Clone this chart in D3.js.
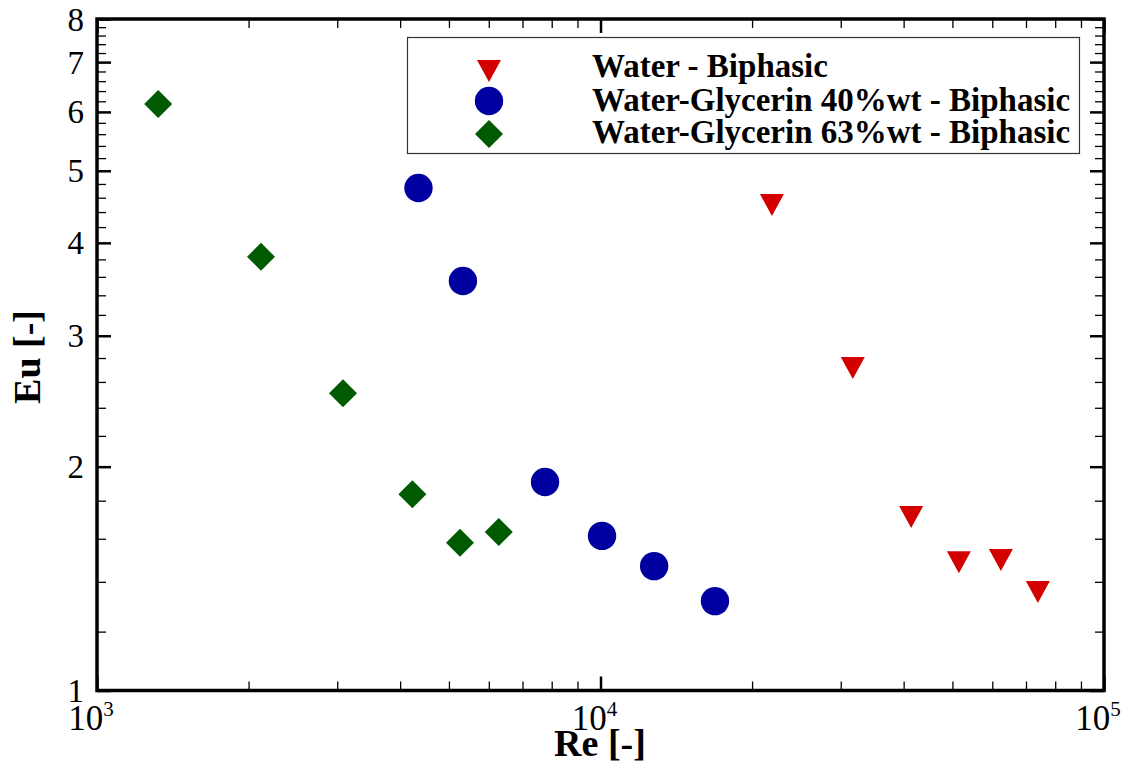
<!DOCTYPE html>
<html>
<head>
<meta charset="utf-8">
<script src="https://cdn.jsdelivr.net/npm/d3@7"></script>
<style>
  body { margin: 0; background: #fff; }
  svg { display: block; }
</style>
</head>
<body>
<svg id="chart" width="1132" height="763"></svg>
<script>
// data
const waterRe = [21900, 31700, 41400, 51500, 62400, 73900];
const waterEu = [4.54, 2.74, 1.727, 1.502, 1.512, 1.369];
const gly40Re = [4350, 5330, 7760, 10070, 12780, 16880];
const gly40Eu = [4.74, 3.554, 1.907, 1.614, 1.47, 1.319];
const gly63Re = [1323, 2117, 3080, 4230, 5260, 6280];
const gly63Eu = [6.15, 3.83, 2.51, 1.836, 1.58, 1.634];

const seriesNames = ["Water - Biphasic", "Water-Glycerin 40%wt - Biphasic", "Water-Glycerin 63%wt - Biphasic"];
const yMajor = [1, 2, 3, 4, 5, 6, 7, 8];
const xMajor = [1e3, 1e4, 1e5];

const svg = d3.select("#chart");
const plot = { left: 97, right: 1104, top: 19, bottom: 690.5 };

const x = d3.scaleLog().domain([1e3, 1e5]).range([plot.left, plot.right]);
const y = d3.scaleLog().domain([1, 8]).range([plot.bottom, plot.top]);

// minor tick values
const xMinor = [];
[1e3, 1e4].forEach(d => { for (let k = 2; k <= 9; k++) xMinor.push(d * k); });
const yMinor = [];
for (let v = 1.2; v < 7.95; v += 0.2) {
  const r = Math.round(v * 10) / 10;
  if (Math.abs(r - Math.round(r)) > 1e-6) yMinor.push(r);
}

const serif = "'Liberation Serif', 'Times New Roman', serif";

function tickAxis(axisFn, scale, values, size, transform, width) {
  const g = svg.append("g").attr("transform", transform)
    .call(axisFn(scale).tickValues(values).tickSize(-size).tickFormat(""));
  g.select(".domain").remove();
  g.selectAll(".tick line").attr("stroke", "#000").attr("stroke-width", width);
}

// bottom / top
tickAxis(d3.axisBottom, x, xMinor, 9, `translate(0,${plot.bottom})`, 1.3);
tickAxis(d3.axisBottom, x, xMajor, 14, `translate(0,${plot.bottom})`, 2.5);
tickAxis(d3.axisTop, x, xMinor, 9, `translate(0,${plot.top})`, 1.3);
tickAxis(d3.axisTop, x, xMajor, 14, `translate(0,${plot.top})`, 2.5);
// left / right
tickAxis(d3.axisLeft, y, yMinor, 9, `translate(${plot.left},0)`, 1.3);
tickAxis(d3.axisLeft, y, yMajor, 14, `translate(${plot.left},0)`, 2.5);
tickAxis(d3.axisRight, y, yMinor, 9, `translate(${plot.right},0)`, 1.3);
tickAxis(d3.axisRight, y, yMajor, 14, `translate(${plot.right},0)`, 2.5);

// frame
svg.append("rect")
  .attr("x", plot.left).attr("y", plot.top)
  .attr("width", plot.right - plot.left).attr("height", plot.bottom - plot.top)
  .attr("fill", "none").attr("stroke", "#000").attr("stroke-width", 3.5);

// y tick labels
svg.append("g").selectAll("text").data(yMajor).join("text")
  .attr("x", 84).attr("y", d => y(d))
  .attr("dy", "0.35em")
  .attr("text-anchor", "end")
  .style("font-family", serif).style("font-size", "33px")
  .text(d => d);

// x tick labels, 10^n
const xl = svg.append("g").selectAll("text").data(xMajor).join("text")
  .attr("x", d => x(d) - 6).attr("y", 730)
  .attr("text-anchor", "middle")
  .style("font-family", serif).style("font-size", "35px");
xl.append("tspan").text("10");
xl.append("tspan").attr("dy", -14).style("font-size", "21px").text(d => Math.round(Math.log10(d)));

// axis titles
svg.append("text")
  .attr("x", 600).attr("y", 756)
  .attr("text-anchor", "middle")
  .style("font-family", serif).style("font-size", "38px").style("font-weight", "bold")
  .text("Re [-]");
svg.append("text")
  .attr("transform", "translate(40,357) rotate(-90)")
  .attr("text-anchor", "middle")
  .style("font-family", serif).style("font-size", "38px").style("font-weight", "bold")
  .text("Eu [-]");

// markers
const red = "#d40000", blue = "#0000a0", green = "#005a00";
const triDown = "M-12,-8L12,-8L0,14Z";
const diamond = "M0,-14L14,0L0,14L-14,0Z";

const idx = arr => arr.map((v, i) => i);

svg.append("g").selectAll("path").data(idx(waterRe)).join("path")
  .attr("d", triDown)
  .attr("transform", i => `translate(${x(waterRe[i])},${y(waterEu[i])})`)
  .attr("fill", red);

svg.append("g").selectAll("circle").data(idx(gly40Re)).join("circle")
  .attr("cx", i => x(gly40Re[i])).attr("cy", i => y(gly40Eu[i]))
  .attr("r", 14.2).attr("fill", blue);

svg.append("g").selectAll("path").data(idx(gly63Re)).join("path")
  .attr("d", diamond)
  .attr("transform", i => `translate(${x(gly63Re[i])},${y(gly63Eu[i])})`)
  .attr("fill", green);

// legend
const lg = svg.append("g");
lg.append("rect")
  .attr("x", 407.5).attr("y", 37.5).attr("width", 672).attr("height", 116)
  .attr("fill", "#fff").attr("stroke", "#333").attr("stroke-width", 1.2);

const legendRows = [
  { name: seriesNames[0], cy: 68, base: 77 },
  { name: seriesNames[1], cy: 101, base: 111 },
  { name: seriesNames[2], cy: 134, base: 143 }
];
lg.append("path").attr("d", triDown).attr("transform", `translate(489,${legendRows[0].cy})`).attr("fill", red);
lg.append("circle").attr("cx", 489).attr("cy", legendRows[1].cy).attr("r", 14.2).attr("fill", blue);
lg.append("path").attr("d", diamond).attr("transform", `translate(489,${legendRows[2].cy})`).attr("fill", green);

lg.selectAll("text").data(legendRows).join("text")
  .attr("x", 592).attr("y", d => d.base)
  .style("font-family", serif).style("font-size", "33px").style("font-weight", "bold")
  .text(d => d.name);
</script>
</body>
</html>
